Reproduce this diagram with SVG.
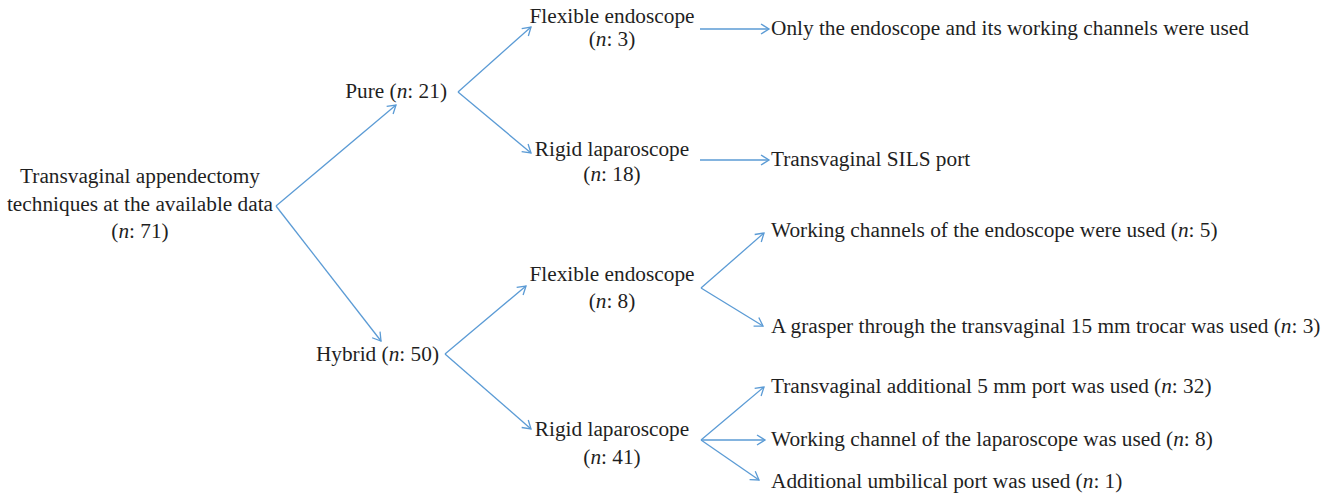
<svg xmlns="http://www.w3.org/2000/svg" width="1332" height="494" viewBox="0 0 1332 494">
<defs>
<style>
text{font-family:'Liberation Serif',serif;font-size:21.3px;fill:#1f1f1f}
.c{text-anchor:middle}
.e{text-anchor:end}
.i{font-style:italic}
.ln{stroke:#5b9bd5;stroke-width:1.3;fill:none;marker-end:url(#ah)}
</style>
<marker id="ah" markerUnits="userSpaceOnUse" markerWidth="14" markerHeight="14" refX="9" refY="6" orient="auto">
<path d="M1,1 L9,6 L1,11" fill="none" stroke="#5b9bd5" stroke-width="1.3"/>
</marker>
</defs>
<rect width="1332" height="494" fill="#ffffff"/>
<g id="connectors">
<path class="ln" d="M276,206 L396,105"/>
<path class="ln" d="M276,206 L381,341"/>
<path class="ln" d="M458,92 L531,27"/>
<path class="ln" d="M458,92 L531,153"/>
<path class="ln" d="M700,29 L769,29"/>
<path class="ln" d="M700,160 L769,160"/>
<path class="ln" d="M445,354 L526,286"/>
<path class="ln" d="M445,354 L531,429"/>
<path class="ln" d="M701,288 L764,233"/>
<path class="ln" d="M701,288 L763,326"/>
<path class="ln" d="M701,440 L764,387"/>
<path class="ln" d="M701,440 L765,440"/>
<path class="ln" d="M701,440 L759,480"/>
</g>
<g id="root">
<text class="c" x="140" y="183">Transvaginal appendectomy</text>
<text class="c" x="140" y="211">techniques at the available data</text>
<text class="c" x="140" y="238">(<tspan class="i">n</tspan>: 71)</text>
</g>
<g id="pure"><text class="e" x="447" y="98">Pure (<tspan class="i">n</tspan>: 21)</text></g>
<g id="hybrid"><text class="e" x="439" y="361">Hybrid (<tspan class="i">n</tspan>: 50)</text></g>
<g id="pure-flexible">
<text class="c" x="612" y="23">Flexible endoscope</text>
<text class="c" x="612" y="46">(<tspan class="i">n</tspan>: 3)</text>
</g>
<g id="pure-rigid">
<text class="c" x="612" y="156">Rigid laparoscope</text>
<text class="c" x="612" y="181">(<tspan class="i">n</tspan>: 18)</text>
</g>
<g id="hybrid-flexible">
<text class="c" x="612" y="281">Flexible endoscope</text>
<text class="c" x="612" y="308">(<tspan class="i">n</tspan>: 8)</text>
</g>
<g id="hybrid-rigid">
<text class="c" x="612" y="436">Rigid laparoscope</text>
<text class="c" x="612" y="464">(<tspan class="i">n</tspan>: 41)</text>
</g>
<g id="only-endoscope"><text x="771" y="35">Only the endoscope and its working channels were used</text></g>
<g id="sils"><text x="771" y="166">Transvaginal SILS port</text></g>
<g id="working-channels"><text x="771" y="237">Working channels of the endoscope were used (<tspan class="i">n</tspan>: 5)</text></g>
<g id="grasper"><text x="771" y="333">A grasper through the transvaginal 15 mm trocar was used (<tspan class="i">n</tspan>: 3)</text></g>
<g id="additional-5mm"><text x="771" y="393">Transvaginal additional 5 mm port was used (<tspan class="i">n</tspan>: 32)</text></g>
<g id="working-channel-lap"><text x="771" y="446">Working channel of the laparoscope was used (<tspan class="i">n</tspan>: 8)</text></g>
<g id="umbilical"><text x="771" y="488">Additional umbilical port was used (<tspan class="i">n</tspan>: 1)</text></g>
</svg>
